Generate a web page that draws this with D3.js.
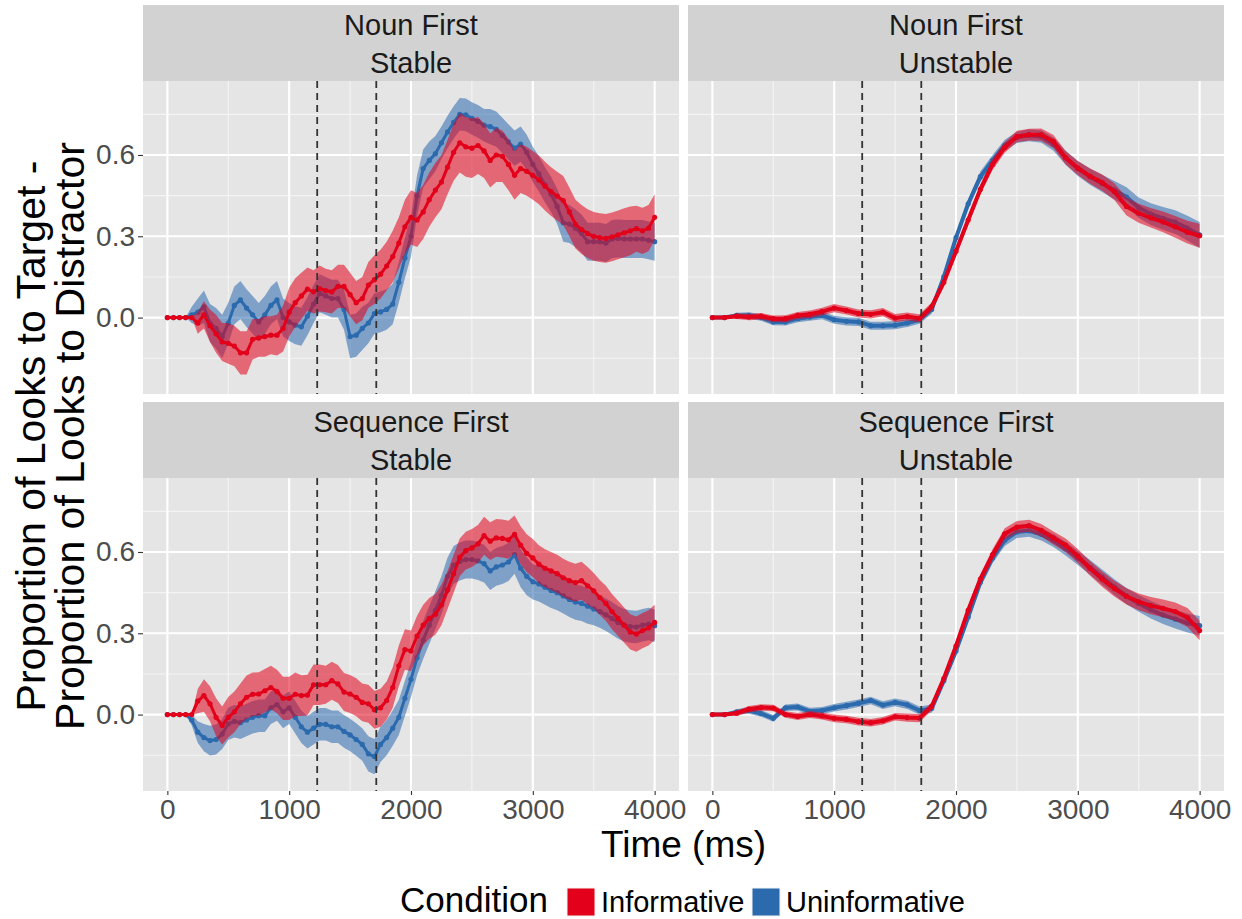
<!DOCTYPE html>
<html>
<head>
<meta charset="utf-8">
<script src="https://cdn.jsdelivr.net/npm/d3@7"></script>
<style>
  body { margin: 0; background: #ffffff; }
  svg { display: block; font-family: "Liberation Sans", Arial, Helvetica, sans-serif; }
</style>
</head>
<body>
<svg id="chart" width="1242" height="919"></svg>
<script>
// ---- Data -------------------------------------------------------------
const conditions = ["Informative", "Uninformative"];
const orders = ["Noun First", "Sequence First"];
const stabilities = ["Stable", "Unstable"];
const xTickValues = [0, 1000, 2000, 3000, 4000];
const yTickValues = [0.0, 0.3, 0.6];
const windowMarkers = [1230, 1715];

// sample times (ms)
const timesStable = d3.range(0, 4001, 50);     // 81 samples
const timesUnstable = d3.range(0, 4001, 100);  // 41 samples

// Noun First / Stable
const nounStableInf = [
  0, 0, 0, 0, 0, -0.02, 0.01, -0.03, -0.06, -0.09,
  -0.095, -0.105, -0.13, -0.13, -0.08, -0.075, -0.07, -0.065, -0.065, -0.04,
  0.02, 0.055, 0.08, 0.105, 0.095, 0.107, 0.10, 0.095, 0.115, 0.115,
  0.085, 0.055, 0.07, 0.12, 0.14, 0.16, 0.19, 0.225, 0.275, 0.335,
  0.37, 0.36, 0.39, 0.435, 0.47, 0.50, 0.555, 0.61, 0.645, 0.63,
  0.625, 0.635, 0.615, 0.58, 0.60, 0.595, 0.565, 0.525, 0.55, 0.54,
  0.525, 0.508, 0.485, 0.465, 0.448, 0.432, 0.39, 0.345, 0.325, 0.31,
  0.30, 0.295, 0.292, 0.298, 0.305, 0.313, 0.32, 0.328, 0.32, 0.33,
  0.37
];
const nounStableInfSE = [
  0, 0, 0, 0, 0, 0.04, 0.05, 0.06, 0.07, 0.07,
  0.075, 0.075, 0.08, 0.08, 0.075, 0.07, 0.075, 0.07, 0.075, 0.085,
  0.09, 0.09, 0.085, 0.08, 0.08, 0.085, 0.08, 0.08, 0.08, 0.08,
  0.08, 0.08, 0.08, 0.085, 0.09, 0.09, 0.09, 0.095, 0.095, 0.1,
  0.1, 0.1, 0.1, 0.1, 0.1, 0.1, 0.1, 0.105, 0.11, 0.11,
  0.11, 0.105, 0.1, 0.1, 0.1, 0.095, 0.095, 0.09, 0.09, 0.09,
  0.09, 0.09, 0.09, 0.09, 0.09, 0.09, 0.09, 0.09, 0.09, 0.09,
  0.09, 0.09, 0.09, 0.09, 0.09, 0.09, 0.09, 0.085, 0.085, 0.085,
  0.085
];
const nounStableUninf = [
  0, 0, 0, 0, 0.01, 0.02, 0.04, -0.02, -0.04, -0.07,
  -0.02, 0.045, 0.065, 0.035, 0.01, -0.016, 0.01, 0.045, 0.065, 0.0,
  -0.016, -0.028, -0.034, 0.005, 0.05, 0.09, 0.08, 0.07, 0.07, 0.03,
  -0.07, -0.065, -0.04, -0.02, 0.015, 0.021, 0.03, 0.05, 0.13, 0.22,
  0.30, 0.45, 0.55, 0.58, 0.605, 0.645, 0.685, 0.72, 0.75, 0.748,
  0.735, 0.724, 0.71, 0.705, 0.695, 0.672, 0.648, 0.625, 0.64, 0.61,
  0.565, 0.53, 0.49, 0.455, 0.41, 0.35, 0.345, 0.33, 0.31, 0.28,
  0.28, 0.28, 0.275, 0.29, 0.292, 0.29, 0.29, 0.29, 0.29, 0.285,
  0.28
];
const nounStableUninfSE = [
  0, 0, 0, 0, 0.03, 0.05, 0.06, 0.07, 0.075, 0.08,
  0.075, 0.07, 0.07, 0.07, 0.07, 0.07, 0.07, 0.07, 0.07, 0.07,
  0.07, 0.07, 0.07, 0.07, 0.07, 0.07, 0.07, 0.07, 0.07, 0.075,
  0.08, 0.08, 0.08, 0.075, 0.075, 0.075, 0.075, 0.075, 0.075, 0.075,
  0.075, 0.075, 0.07, 0.07, 0.065, 0.06, 0.06, 0.06, 0.06, 0.06,
  0.06, 0.06, 0.06, 0.065, 0.065, 0.065, 0.065, 0.065, 0.065, 0.065,
  0.065, 0.065, 0.065, 0.065, 0.065, 0.07, 0.07, 0.07, 0.07, 0.07,
  0.07, 0.07, 0.07, 0.07, 0.07, 0.07, 0.07, 0.07, 0.07, 0.07,
  0.07
];

// Sequence First / Stable
const seqStableInf = [
  0, 0, 0, 0, 0, 0.05, 0.07, 0.04, -0.01, -0.04,
  -0.01, 0.01, 0.04, 0.064, 0.075, 0.076, 0.088, 0.1, 0.085, 0.06,
  0.06, 0.075, 0.07, 0.072, 0.11, 0.11, 0.11, 0.125, 0.113, 0.083,
  0.076, 0.064, 0.045, 0.04, 0.018, 0.025, 0.052, 0.10, 0.18, 0.24,
  0.235, 0.29, 0.33, 0.355, 0.37, 0.405, 0.46, 0.52, 0.58, 0.605,
  0.615, 0.63, 0.66, 0.64, 0.652, 0.65, 0.645, 0.665, 0.625, 0.595,
  0.578, 0.555, 0.54, 0.53, 0.52, 0.505, 0.494, 0.487, 0.494, 0.475,
  0.457, 0.432, 0.41, 0.38, 0.355, 0.33, 0.305, 0.297, 0.31, 0.32,
  0.34
];
const seqStableInfSE = [
  0, 0, 0, 0, 0, 0.045, 0.06, 0.065, 0.07, 0.07,
  0.075, 0.075, 0.075, 0.08, 0.08, 0.08, 0.08, 0.08, 0.08, 0.08,
  0.08, 0.08, 0.075, 0.075, 0.075, 0.075, 0.07, 0.07, 0.07, 0.07,
  0.07, 0.07, 0.07, 0.07, 0.07, 0.07, 0.07, 0.075, 0.075, 0.075,
  0.075, 0.075, 0.075, 0.075, 0.075, 0.075, 0.07, 0.07, 0.07, 0.07,
  0.07, 0.07, 0.07, 0.07, 0.07, 0.07, 0.07, 0.07, 0.07, 0.07,
  0.07, 0.07, 0.07, 0.07, 0.07, 0.07, 0.07, 0.07, 0.07, 0.07,
  0.065, 0.065, 0.065, 0.065, 0.065, 0.065, 0.065, 0.065, 0.065, 0.065,
  0.065
];
const seqStableUninf = [
  0, 0, 0, 0, -0.02, -0.065, -0.085, -0.096, -0.092, -0.072,
  -0.034, -0.025, -0.03, -0.02, -0.01, -0.004, -0.004, 0.025, 0.037, 0.01,
  0.025, -0.01, -0.045, -0.065, -0.05, -0.036, -0.036, -0.045, -0.045, -0.062,
  -0.075, -0.092, -0.11, -0.145, -0.155, -0.11, -0.085, -0.05, -0.01, 0.06,
  0.13, 0.21, 0.275, 0.33, 0.385, 0.44, 0.51, 0.552, 0.565, 0.572,
  0.572, 0.567, 0.557, 0.53, 0.545, 0.552, 0.563, 0.59, 0.54, 0.51,
  0.49, 0.482, 0.47, 0.458, 0.45, 0.438, 0.425, 0.415, 0.41, 0.40,
  0.39, 0.38, 0.368, 0.355, 0.34, 0.33, 0.325, 0.323, 0.33, 0.334,
  0.328
];
const seqStableUninfSE = [
  0, 0, 0, 0, 0.02, 0.04, 0.05, 0.055, 0.055, 0.055,
  0.06, 0.06, 0.06, 0.06, 0.06, 0.06, 0.06, 0.06, 0.06, 0.06,
  0.06, 0.06, 0.06, 0.06, 0.06, 0.06, 0.06, 0.06, 0.06, 0.06,
  0.06, 0.06, 0.06, 0.065, 0.065, 0.065, 0.065, 0.065, 0.065, 0.065,
  0.065, 0.065, 0.07, 0.07, 0.07, 0.07, 0.07, 0.07, 0.07, 0.07,
  0.07, 0.07, 0.07, 0.07, 0.07, 0.07, 0.07, 0.07, 0.07, 0.07,
  0.065, 0.065, 0.065, 0.065, 0.065, 0.065, 0.065, 0.065, 0.065, 0.065,
  0.06, 0.06, 0.06, 0.06, 0.06, 0.06, 0.06, 0.06, 0.06, 0.06,
  0.06
];

// Noun First / Unstable
const nounUnstableInf = [
  0, 0, 0.005, 0.002, 0.005, -0.004, -0.004, 0.008, 0.012, 0.022,
  0.035, 0.026, 0.015, 0.012, 0.02, -0.002, 0.004, -0.003, 0.04, 0.13,
  0.245, 0.36, 0.473, 0.565, 0.628, 0.668, 0.675, 0.675, 0.65, 0.59,
  0.552, 0.522, 0.498, 0.465, 0.41, 0.385, 0.368, 0.353, 0.335, 0.315,
  0.302
];
const nounUnstableInfSE = [
  0, 0, 0.01, 0.012, 0.012, 0.012, 0.013, 0.013, 0.014, 0.014,
  0.015, 0.015, 0.015, 0.015, 0.015, 0.015, 0.015, 0.015, 0.016, 0.016,
  0.017, 0.018, 0.019, 0.02, 0.02, 0.021, 0.022, 0.023, 0.024, 0.025,
  0.026, 0.028, 0.03, 0.031, 0.033, 0.035, 0.036, 0.038, 0.04, 0.042,
  0.044
];
const nounUnstableUninf = [
  0, 0, 0.008, 0.008, 0.0, -0.016, -0.016, -0.004, 0.002, 0.008,
  -0.008, -0.014, -0.016, -0.03, -0.03, -0.028, -0.02, -0.008, 0.03, 0.15,
  0.295, 0.42, 0.52, 0.58, 0.636, 0.665, 0.673, 0.668, 0.64, 0.59,
  0.55, 0.52, 0.495, 0.47, 0.445, 0.405, 0.382, 0.366, 0.352, 0.33,
  0.305
];
const nounUnstableUninfSE = [
  0, 0, 0.01, 0.012, 0.012, 0.012, 0.013, 0.013, 0.014, 0.014,
  0.015, 0.015, 0.015, 0.015, 0.015, 0.015, 0.015, 0.015, 0.016, 0.016,
  0.017, 0.018, 0.019, 0.02, 0.02, 0.021, 0.022, 0.023, 0.024, 0.026,
  0.028, 0.03, 0.032, 0.034, 0.036, 0.038, 0.04, 0.042, 0.044, 0.046,
  0.048
];

// Sequence First / Unstable
const seqUnstableInf = [
  0, 0, 0.005, 0.02, 0.026, 0.024, 0.0, -0.007, 0.0, -0.005,
  -0.014, -0.018, -0.026, -0.03, -0.023, -0.008, -0.011, -0.013, 0.03, 0.133,
  0.253, 0.385, 0.5, 0.59, 0.667, 0.692, 0.697, 0.68, 0.652, 0.625,
  0.585, 0.54, 0.50, 0.465, 0.436, 0.416, 0.402, 0.392, 0.38, 0.358,
  0.31
];
const seqUnstableInfSE = [
  0, 0, 0.01, 0.012, 0.012, 0.012, 0.012, 0.013, 0.013, 0.013,
  0.014, 0.014, 0.014, 0.014, 0.014, 0.014, 0.015, 0.015, 0.015, 0.016,
  0.017, 0.018, 0.019, 0.02, 0.021, 0.022, 0.022, 0.023, 0.024, 0.025,
  0.026, 0.027, 0.028, 0.029, 0.03, 0.031, 0.032, 0.033, 0.034, 0.035,
  0.036
];
const seqUnstableUninf = [
  0, 0, 0.01, 0.015, 0.004, -0.014, 0.025, 0.028, 0.012, 0.015,
  0.025, 0.033, 0.042, 0.052, 0.035, 0.045, 0.036, 0.015, 0.022, 0.125,
  0.235, 0.36, 0.488, 0.578, 0.643, 0.674, 0.678, 0.665, 0.642, 0.612,
  0.578, 0.543, 0.507, 0.47, 0.437, 0.41, 0.387, 0.367, 0.352, 0.338,
  0.328
];
const seqUnstableUninfSE = [
  0, 0, 0.01, 0.012, 0.012, 0.012, 0.012, 0.013, 0.013, 0.013,
  0.014, 0.014, 0.014, 0.014, 0.014, 0.014, 0.015, 0.015, 0.015, 0.016,
  0.017, 0.018, 0.019, 0.02, 0.021, 0.022, 0.022, 0.023, 0.024, 0.025,
  0.026, 0.027, 0.028, 0.029, 0.03, 0.031, 0.032, 0.033, 0.034, 0.035,
  0.036
];

// ---- Layout & style ---------------------------------------------------
const colour = { "Informative": "#E2001A", "Uninformative": "#2C6AAE" };
const ribbonOpacity = 0.55;
const colX = [143, 688];
const panelW = 536;
const rowsY = [
  { strip: 5, top: 81, bottom: 394 },
  { strip: 402, top: 478, bottom: 791 }
];
const panelH = 313;

const panels = [
  { row: 0, col: 0, order: orders[0], stab: stabilities[0], time: timesStable,
    series: { "Uninformative": [nounStableUninf, nounStableUninfSE], "Informative": [nounStableInf, nounStableInfSE] } },
  { row: 0, col: 1, order: orders[0], stab: stabilities[1], time: timesUnstable,
    series: { "Uninformative": [nounUnstableUninf, nounUnstableUninfSE], "Informative": [nounUnstableInf, nounUnstableInfSE] } },
  { row: 1, col: 0, order: orders[1], stab: stabilities[0], time: timesStable,
    series: { "Uninformative": [seqStableUninf, seqStableUninfSE], "Informative": [seqStableInf, seqStableInfSE] } },
  { row: 1, col: 1, order: orders[1], stab: stabilities[1], time: timesUnstable,
    series: { "Uninformative": [seqUnstableUninf, seqUnstableUninfSE], "Informative": [seqUnstableInf, seqUnstableInfSE] } }
];

const svg = d3.select("#chart");
svg.append("rect").attr("width", 1242).attr("height", 919).attr("fill", "#ffffff");

const x = d3.scaleLinear().domain([-200, 4200]).range([0, panelW]);
const y = d3.scaleLinear().domain([-0.282, 0.873]).range([panelH, 0]);

const minorX = [500, 1500, 2500, 3500];
const minorY = [-0.15, 0.15, 0.45, 0.75];

panels.forEach(p => {
  const left = colX[p.col];
  const rowInfo = rowsY[p.row];
  const g = svg.append("g").attr("transform", `translate(${left},${rowInfo.top})`);

  // panel background
  g.append("rect").attr("width", panelW).attr("height", panelH).attr("fill", "#E5E5E5");

  // grid
  g.selectAll(".gminx").data(minorX).join("line")
    .attr("x1", d => x(d)).attr("x2", d => x(d)).attr("y1", 0).attr("y2", panelH)
    .attr("stroke", "#F4F4F4").attr("stroke-width", 1.1);
  g.selectAll(".gminy").data(minorY).join("line")
    .attr("y1", d => y(d)).attr("y2", d => y(d)).attr("x1", 0).attr("x2", panelW)
    .attr("stroke", "#F4F4F4").attr("stroke-width", 1.1);
  g.selectAll(".gmajx").data(xTickValues).join("line")
    .attr("x1", d => x(d)).attr("x2", d => x(d)).attr("y1", 0).attr("y2", panelH)
    .attr("stroke", "#ffffff").attr("stroke-width", 2.1);
  g.selectAll(".gmajy").data(yTickValues).join("line")
    .attr("y1", d => y(d)).attr("y2", d => y(d)).attr("x1", 0).attr("x2", panelW)
    .attr("stroke", "#ffffff").attr("stroke-width", 2.1);

  // series: ribbon then line, Uninformative underneath
  ["Uninformative", "Informative"].forEach(cond => {
    const [mean, se] = p.series[cond];
    const pts = p.time.map((t, i) => ({ t, v: mean[i], s: se[i] }));
    const area = d3.area()
      .x(d => x(d.t))
      .y0(d => y(d.v - d.s))
      .y1(d => y(d.v + d.s));
    g.append("path").datum(pts).attr("d", area)
      .attr("fill", colour[cond]).attr("fill-opacity", ribbonOpacity);
    const line = d3.line().x(d => x(d.t)).y(d => y(d.v));
    g.append("path").datum(pts).attr("d", line)
      .attr("fill", "none").attr("stroke", colour[cond])
      .attr("stroke-width", p.col === 0 ? 3 : 4).attr("stroke-linejoin", "round");
    g.selectAll(null).data(pts).join("circle")
      .attr("cx", d => x(d.t)).attr("cy", d => y(d.v)).attr("r", 2.6)
      .attr("fill", colour[cond]);
  });

  // dashed window markers
  g.selectAll(".marker").data(windowMarkers).join("line")
    .attr("x1", d => x(d)).attr("x2", d => x(d)).attr("y1", 0).attr("y2", panelH)
    .attr("stroke", "#333333").attr("stroke-width", 1.8).attr("stroke-dasharray", "7,5");

  // strip
  svg.append("rect").attr("x", left).attr("y", rowInfo.strip)
    .attr("width", panelW).attr("height", rowInfo.top - rowInfo.strip)
    .attr("fill", "#D2D2D2");
  [p.order, p.stab].forEach((txt, i) => {
    svg.append("text").attr("x", left + panelW / 2).attr("y", rowInfo.strip + 30 + i * 38)
      .attr("text-anchor", "middle").attr("font-size", 29).attr("fill", "#1A1A1A")
      .text(txt);
  });

  // axes
  if (p.col === 0) {
    const ax = g.append("g").call(d3.axisLeft(y).tickValues(yTickValues)
      .tickFormat(d3.format(".1f")).tickSize(5).tickPadding(3));
    ax.select(".domain").remove();
    ax.selectAll(".tick line").attr("stroke", "#333333").attr("stroke-width", 1.1);
    ax.selectAll(".tick text").attr("font-size", 28).attr("fill", "#4D4D4D")
      .attr("font-family", null);
  }
  if (p.row === 1) {
    const ax = g.append("g").attr("transform", `translate(0,${panelH})`)
      .call(d3.axisBottom(x).tickValues(xTickValues).tickFormat(d3.format("d"))
        .tickSize(4).tickPadding(4));
    ax.select(".domain").remove();
    ax.selectAll(".tick line").attr("stroke", "#333333").attr("stroke-width", 1.1);
    ax.selectAll(".tick text").attr("font-size", 28).attr("fill", "#4D4D4D")
      .attr("font-family", null);
  }
});

// axis titles
const yTitleLines = ["Proportion of Looks to Target -", "Proportion of Looks to Distractor"];
const yMid = (rowsY[0].top + rowsY[1].bottom) / 2;
yTitleLines.forEach((txt, i) => {
  svg.append("text")
    .attr("transform", `translate(${45 + i * 39},${yMid}) rotate(-90)`)
    .attr("text-anchor", "middle").attr("font-size", 41).attr("fill", "#000000")
    .text(txt);
});
svg.append("text").attr("x", (colX[0] + colX[1] + panelW) / 2).attr("y", 857)
  .attr("text-anchor", "middle").attr("font-size", 37).attr("fill", "#000000")
  .text("Time (ms)");

// legend
const legend = svg.append("g");
legend.append("text").attr("x", 400).attr("y", 912).attr("font-size", 35)
  .attr("fill", "#000000").text("Condition");
const keyX = [567, 752];
conditions.forEach((c, i) => {
  legend.append("rect").attr("x", keyX[i]).attr("y", 888).attr("width", 28).attr("height", 28)
    .attr("fill", colour[c]).attr("stroke", "#F2F2F2").attr("stroke-width", 1);
  legend.append("text").attr("x", keyX[i] + 34).attr("y", 912).attr("font-size", 29)
    .attr("fill", "#000000").text(c);
});
</script>
</body>
</html>
